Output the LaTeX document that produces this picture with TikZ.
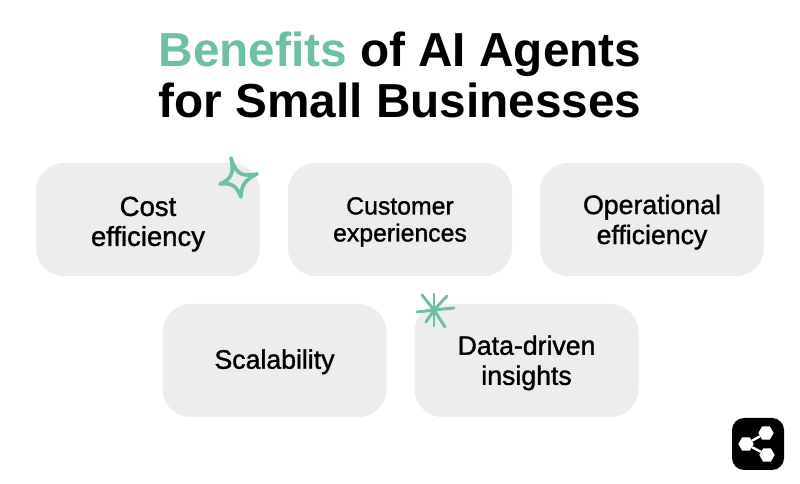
\documentclass[tikz,border=0pt]{standalone}
\usepackage{fontspec}
\setmainfont{Liberation Sans}
\newfontfamily\medfont[FakeBold=1.2]{Liberation Sans}
\usetikzlibrary{positioning}
\usetikzlibrary{shapes.geometric}
\definecolor{mintgreen}{HTML}{6FBFA3}
\definecolor{boxgray}{HTML}{EDEDED}

\begin{document}
\begin{tikzpicture}[
    x=0.75pt, y=-0.75pt,
    % Define the style for the nodes
    title/.style={font=\bfseries\fontsize{35.8}{38.2}\selectfont, align=center, inner sep=0pt},
    benefit/.style={rectangle, rounded corners=21pt, fill=boxgray, minimum width=168pt, minimum height=84.75pt, inner sep=0pt},
    caption/.style={inner sep=0pt, align=center, font=\medfont\fontsize{20}{22.5}\selectfont},
    spark/.style={draw=mintgreen, line width=2.8pt, line cap=round, line join=round},
    ray/.style={draw=mintgreen, line width=2.2pt, line cap=round},
    dot/.style={regular polygon, regular polygon sides=6, fill=white, minimum size=11.5pt, inner sep=0pt},
    link/.style={draw=white, line width=1.8pt}
]
    \useasboundingbox (0,0) rectangle (800,484);

    % title
    \node[title] (head) at (400,75) {{\color{mintgreen}Benefits} of AI Agents\\for Small Businesses};

    % top row
    \node[benefit] (cost) at (148,219.5) {};
    \node[benefit, right=20.6pt of cost] (customer) {};
    \node[benefit, right=20.6pt of customer] (operational) {};

    % bottom row
    \node[benefit, below right=20.6pt and -73.5pt of cost] (scale) {};
    \node[benefit, right=20.6pt of scale] (data) {};

    % box texts
    \node[caption, yshift=-3.5pt, font=\medfont\fontsize{20.6}{22.5}\selectfont] (cost-text) at (cost) {Cost\\efficiency};
    \node[caption, yshift=-1.8pt, font=\medfont\fontsize{18.6}{20.25}\selectfont] (customer-text) at (customer) {Customer\\experiences};
    \node[caption, yshift=-2pt] (operational-text) at (operational) {Operational\\efficiency};
    \node[caption, yshift=-1pt] (scale-text) at (scale) {Scalability};
    \node[caption, yshift=-1.8pt] (data-text) at (data) {Data-driven\\insights};

    % sparkle
    \draw[spark] (231,158) .. controls (236,174) and (241,177) .. (257,174)
        .. controls (246,179) and (241,185) .. (241,197)
        .. controls (237,187) and (232,182) .. (220,184)
        .. controls (230,180) and (235,174) .. cycle;

    % asterisk
    \foreach \tipx/\tipy in {434/294, 447/296, 454/308, 445/327, 434/326, 426/322, 417/312, 422/295} {
        \draw[ray] (434,310) -- (\tipx,\tipy);
    }

    % share icon
    \node[rectangle, rounded corners=9pt, fill=black, minimum size=39pt, inner sep=0pt] (icon) at (758,444) {};
    \node[dot] (s1) at (766,433) {};
    \node[dot] (s2) at (746,444) {};
    \node[dot] (s3) at (767,455) {};
    \draw[link] (s2) -- (s1);
    \draw[link] (s2) -- (s3);

\end{tikzpicture}
\end{document}
